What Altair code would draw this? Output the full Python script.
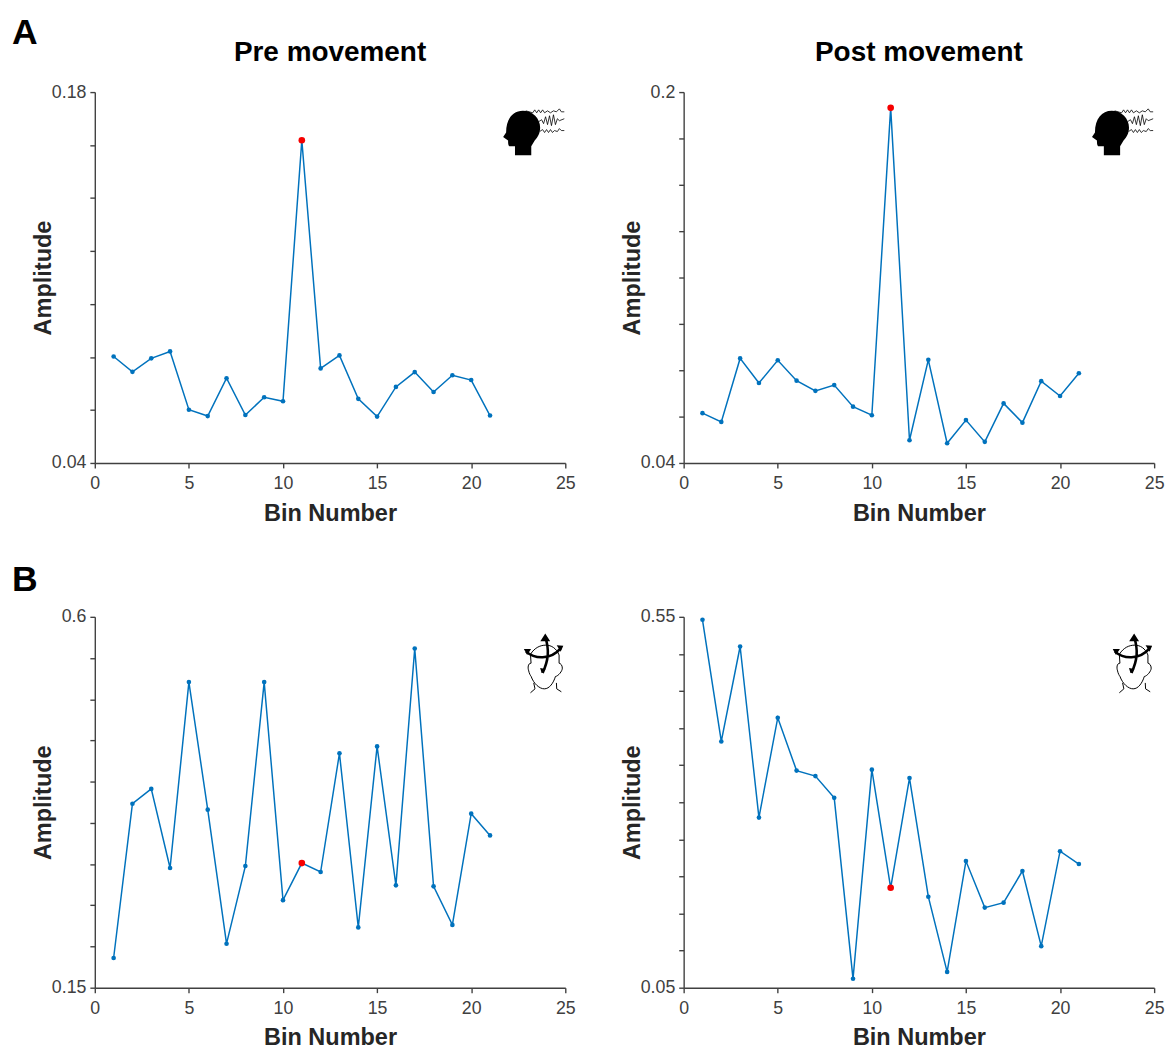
import altair as alt
import pandas as pd

FONT = "Liberation Sans"
BINS = list(range(1, 22))

pre_meg = [.0802, .0744, .0795, .0821, .0601, .0577, .0720, .0581, .0648, .0633, .1618,
           .0757, .0806, .0642, .0575, .0687, .0743, .0668, .0731, .0713, .0579]
post_meg = [.0615, .0577, .0851, .0745, .0843, .0755, .0711, .0736, .0643, .0606, .1932,
            .0498, .0845, .0485, .0585, .0491, .0657, .0574, .0753, .0689, .0787]
pre_eeg = [.186, .3732, .3912, .2952, .5208, .366, .2034, .2976, .5208, .2562, .3012,
           .2904, .4344, .2232, .4428, .2742, .5616, .273, .2262, .3612, .3348]
post_eeg = [.546, .382, .51, .2793, .414, .3427, .3353, .306, .062, .344, .1847,
            .3327, .1727, .0713, .2207, .158, .1647, .2073, .106, .234, .2167]

ticks_a1 = [.04, .06, .08, .10, .12, .14, .16, .18]
ticks_a2 = [.04, .06, .08, .10, .12, .14, .16, .18, .20]
ticks_b1 = [.15, .20, .25, .30, .35, .40, .45, .50, .55, .60]
ticks_b2 = [.05, .10, .15, .20, .25, .30, .35, .40, .45, .50, .55]
x_ticks = [0, 5, 10, 15, 20, 25]

# Decorative icons: SVG paths in pixels around the icon centre (symbol size 4 = scale 1)
HEAD_FILL = ("M-8,28 L-8,19 L-13,19 C-15,19 -15,15 -15,13 L-20,9.5 L-17,5 "
             "C-17,-9 -10,-17 0,-17 C10,-17 17.5,-9 17.5,0 C17.5,6 15,10 12,13 "
             "L8.5,19 L8.5,28 Z")
WAVES = ("M3,-17 L10,-15 L12,-18 L14,-15 L16,-18 L18,-15 L20,-18 L22,-15 L25,-17 L28,-15 "
         "L31,-17 L34,-16 L37,-19 L39,-16 L42,-16 "
         "M16,-6 L19,-8 L21,-4 L23,-11 L25,-3 L27,-12 L29,-2 L31,-13 L33,-3 L35,-9 L37,-7 L42,-9 "
         "M17,4 L20,2 L22,5 L24,2 L26,5 L28,2 L30,5 L32,3 L35,4 L37,1 L39,3 L42,3")
FACE = ("M-12.3,-14 L-11.7,-5 C-15,-5 -15,0 -14.3,2 C-13.5,6 -12,8 -11.7,8.3 "
        "C-9,16 -3,21 1.7,21 C7,21 11,15 13,8.5 C16,8 20,3 20,0 C20,-3 18,-5 16.7,-5 L16.7,-13.3 "
        "M-12.3,-14 C-8,-21 -2,-23.3 3.3,-23.3 C9,-23.3 14,-20 16.7,-13.3 "
        "M-9,15 L-7.7,21 L-12.3,25 M14,15 L14.3,21 L19,24")
ARROWS = ("M-16.7,-16.7 C-8,-9 8,-8 18.3,-20 M0,5 C6,-8 7,-18 2.7,-31.7")
HEADS = ("M-19,-19.3 L-11.7,-19.3 L-15.7,-13.3 Z M14.3,-23.3 L21,-22.7 L18.3,-16.7 Z "
         "M-2.3,-27.3 L2.7,-35 L7.7,-27.3 Z M-1,5 L3,1 L-2.5,0 Z")


def shape(path, x, y, filled, width=0.0):
    kw = dict(shape=path, size=4, opacity=1)
    if filled:
        m = alt.Chart(pd.DataFrame({"a": [0]})).mark_point(filled=True, fill="black", stroke=None, **kw)
    else:
        m = alt.Chart(pd.DataFrame({"a": [0]})).mark_point(filled=False, stroke="black", strokeWidth=width, **kw)
    return m.encode(x=alt.value(x), y=alt.value(y))


def meg_icon():
    return [shape(HEAD_FILL, 434, 36, True), shape(WAVES, 434, 36, False, 0.8)]


def eeg_icon():
    return [shape(FACE, 454, 52, False, 1.0), shape(ARROWS, 454, 52, False, 2.6), shape(HEADS, 454, 52, True)]


def label(text, x, y, size, align):
    return alt.Chart(pd.DataFrame({"a": [0]})).mark_text(
        text=text, font=FONT, fontSize=size, fontWeight="bold", align=align, baseline="alphabetic", color="black"
    ).encode(x=alt.value(x), y=alt.value(y))


def panel(values, ticks, hi_lab, lo_lab, title, icon, letter=None, letter_y=0):
    df = pd.DataFrame({"bin": BINS, "amp": values})
    lo, hi = ticks[0], ticks[-1]
    expr = (f"abs(datum.value-{hi})<1e-6 ? '{hi_lab}' : "
            f"(abs(datum.value-{lo})<1e-6 ? '{lo_lab}' : '')")
    x = alt.X("bin:Q", scale=alt.Scale(domain=[0, 25], nice=False),
              axis=alt.Axis(values=x_ticks, title="Bin Number", format="d", grid=False,
                            labelFontSize=18, labelFont=FONT, labelColor="#404040",
                            labelPadding=7, labelFlush=False,
                            titleFontSize=23.8, titleFont=FONT, titleFontWeight="bold", titleColor="#262626",
                            titlePadding=9, tickSize=5, tickColor="#404040", domainColor="#404040",
                            tickWidth=1.4, domainWidth=1.4))
    y = alt.Y("amp:Q", scale=alt.Scale(domain=[lo, hi], nice=False, zero=False),
              axis=alt.Axis(values=ticks, title="Amplitude", grid=False, labelExpr=expr,
                            labelFontSize=18, labelFont=FONT, labelColor="#404040",
                            labelPadding=4, labelFlush=False,
                            titleFontSize=23.8, titleFont=FONT, titleFontWeight="bold", titleColor="#262626",
                            titleX=-52, titleBaseline="middle",
                            tickSize=5, tickColor="#404040", domainColor="#404040",
                            tickWidth=1.4, domainWidth=1.4))
    base = alt.Chart(df).encode(x=x, y=y)
    line = base.mark_line(color="#0072BD", strokeWidth=1.5)
    pts = base.mark_point(filled=True, color="#0072BD", size=22, opacity=1)
    red = base.transform_filter("datum.bin == 11").mark_point(filled=True, color="#F60000", size=45, opacity=1)
    layers = [line, pts, red] + icon
    if title:
        layers.append(label(title, 238.5, -32, 28.3, "center"))
    if letter:
        layers.append(label(letter, -84, letter_y, 36, "left"))
    return alt.layer(*layers).properties(width=477, height=376)


a1 = panel(pre_meg, ticks_a1, "0.18", "0.04", "Pre movement", meg_icon(), "A", -49)
a2 = panel(post_meg, ticks_a2, "0.2", "0.04", "Post movement", meg_icon())
b1 = panel(pre_eeg, ticks_b1, "0.6", "0.15", None, eeg_icon(), "B", -26)
b2 = panel(post_eeg, ticks_b2, "0.55", "0.05", None, eeg_icon())

chart = alt.vconcat(
    alt.hconcat(a1, a2, spacing=45),
    alt.hconcat(b1, b2, spacing=45),
    spacing=38,
).configure_view(stroke=None).properties(
    padding={"left": 4, "top": 0, "right": 0, "bottom": 0}, background="white")

chart.save("out.html", embed_options={"renderer": "svg", "actions": False})
